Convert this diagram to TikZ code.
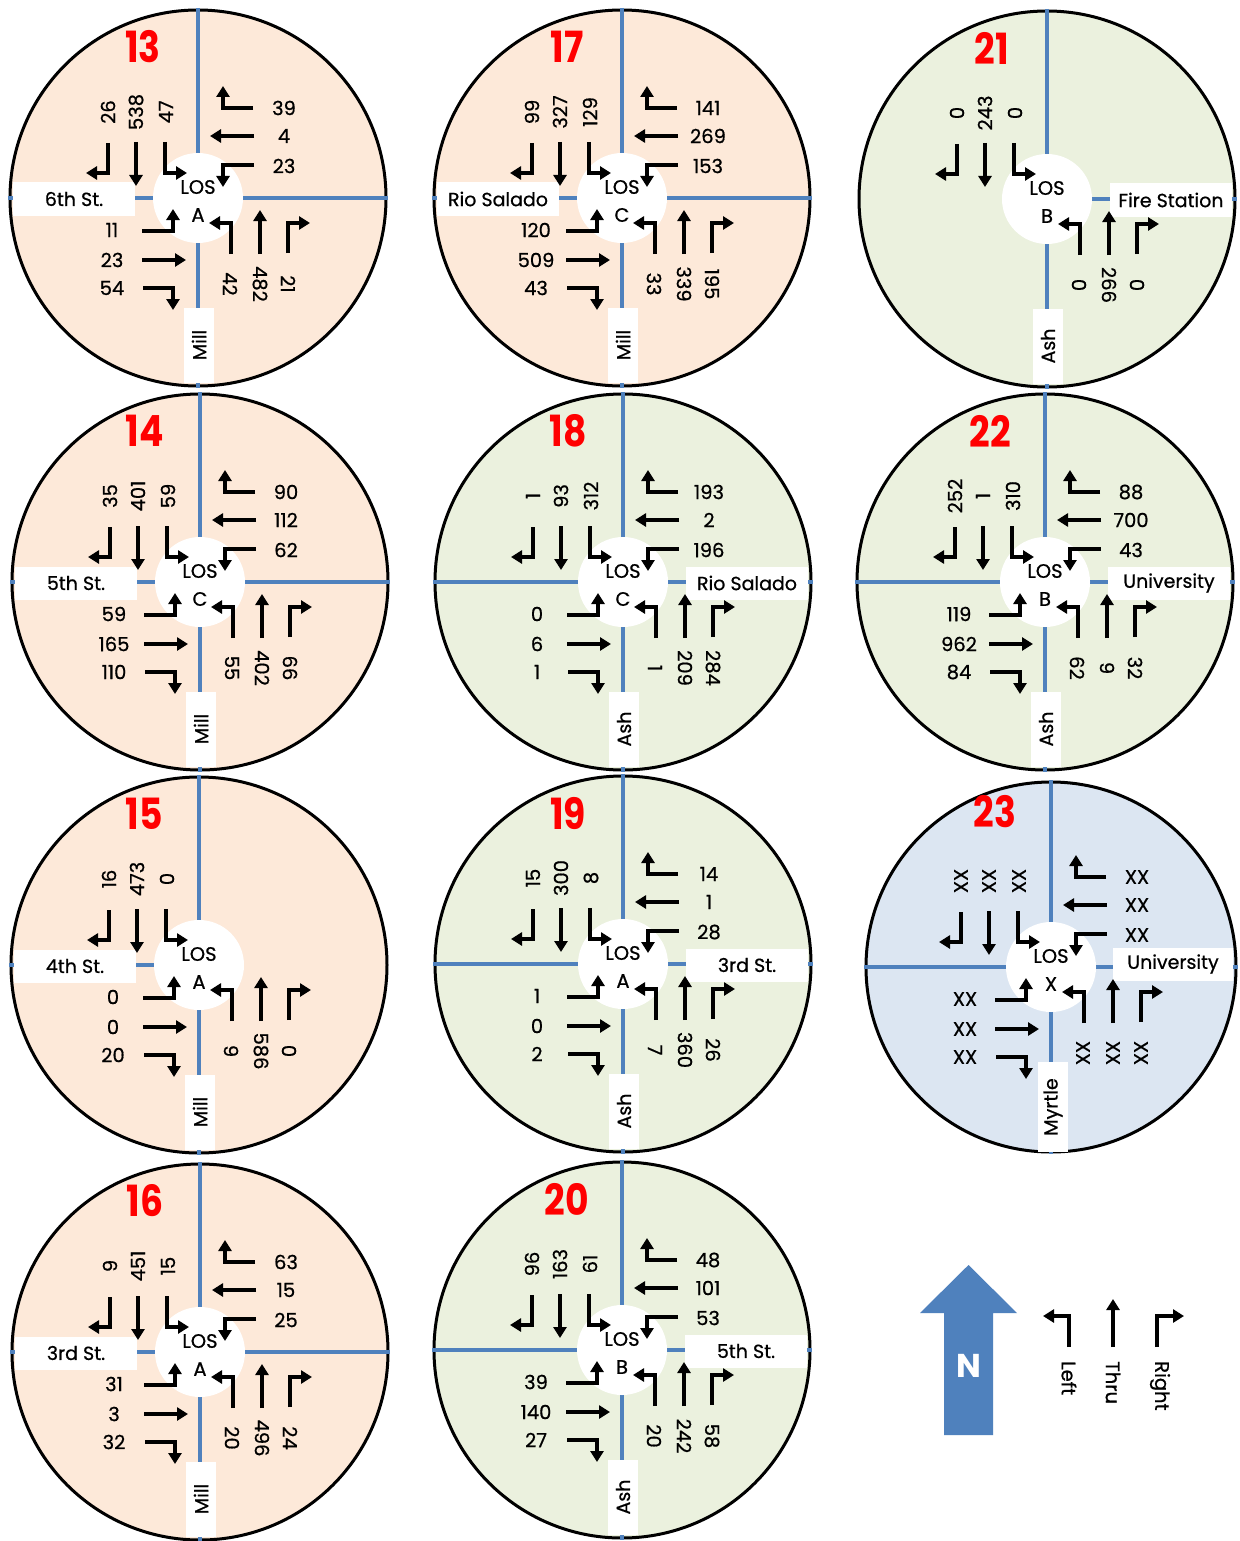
\documentclass[tikz,border=0pt]{standalone}
\usepackage{fontspec}
\setmainfont{Poppins}[FakeBold=0.7]
\newfontfamily\plainpop{Poppins}
\usetikzlibrary{arrows.meta}
\definecolor{peach}{HTML}{FDE9D9}
\definecolor{sage}{HTML}{EBF1DE}
\definecolor{pale}{HTML}{DCE6F2}
\definecolor{road}{HTML}{4F81BD}
\tikzset{
  rim/.style={draw=black, line width=3pt},
  roadline/.style={draw=road, line width=4pt},
  mv/.style={draw=black, line width=3.8pt, line join=miter, -{Triangle[length=11pt,width=13pt]}},
  vol/.style={font=\fontsize{19.5}{19.5}\selectfont, inner sep=0pt},
  streetbox/.style={fill=white, inner sep=0pt, minimum width=122pt, minimum height=33pt, font=\fontsize{19}{19}\selectfont},
  losdot/.style={circle, fill=white, minimum size=90pt, inner sep=0pt},
  idnum/.style={text=red, inner sep=0pt, font=\plainpop\fontsize{43}{43}\selectfont\bfseries, xscale=0.84},
}
\newcommand\mydisc[2]{\draw[rim, fill=#1] (0,0) circle[radius=#2pt];}
\newcommand\hroad{\draw[roadline] (-190,0) -- (190,0);}
\newcommand\vroad{\draw[roadline] (0,-190) -- (0,190);}
\newcommand\losmark[2]{\node[losdot] (#1) at (0,0) {};
  \node[vol] (#1a) at (0,-11) {LOS};
  \node[vol] (#1b) at (0,17) {#2};}
\newcommand\westlabel[2]{\node[streetbox] (#1) at (-124,1) {#2};}
\newcommand\eastlabel[2]{\node[streetbox] (#1) at (124,1) {#2};}
\newcommand\southlabel[2]{\node[streetbox, minimum width=75pt, minimum height=30pt, rotate=90] (#1) at (1,147) {#2};}
\newcommand\idtag[2]{\node[idnum] (#1) at (-55,-151) {#2};}
% prefix, rotation, label rotation, right, thru, left
\newcommand\mvset[6]{%
  \begin{scope}[rotate=#2]
    \draw[mv] (-90,-55) -- (-90,-25) -- (-112,-25);
    \draw[mv] (-62,-56) -- (-62,-12);
    \draw[mv] (-33,-56) -- (-33,-25) -- (-11,-25);
    \node[vol, rotate=#3] (#1r) at (-90,-86) {#4};
    \node[vol, rotate=#3] (#1t) at (-62,-86) {#5};
    \node[vol, rotate=#3] (#1l) at (-32,-86) {#6};
  \end{scope}}
\begin{document}
\begin{tikzpicture}[x=1pt, y=-1pt]
\fill[white] (0,0) rectangle (1239,1541);
\useasboundingbox (0,0) rectangle (1239,1541);

% ---------- 13 ----------
\begin{scope}[shift={(198,198)}]
  \mydisc{peach}{188}
  \hroad \vroad
  \losmark{c13los}{A}
  \westlabel{c13w}{6th St.}
  \southlabel{c13s}{Mill}
  \mvset{c13sb}{0}{90}{26}{538}{47}
  \mvset{c13wb}{-90}{0}{39}{4}{23}
  \mvset{c13eb}{90}{0}{54}{23}{11}
  \mvset{c13nb}{180}{-90}{21}{482}{42}
  \idtag{c13n}{13}
\end{scope}

% ---------- 17 ----------
\begin{scope}[shift={(622,198)}]
  \mydisc{peach}{188}
  \hroad \vroad
  \losmark{c17los}{C}
  \westlabel{c17w}{Rio Salado}
  \southlabel{c17s}{Mill}
  \mvset{c17sb}{0}{90}{99}{327}{129}
  \mvset{c17wb}{-90}{0}{141}{269}{153}
  \mvset{c17eb}{90}{0}{43}{509}{120}
  \mvset{c17nb}{180}{-90}{195}{339}{33}
  \idtag{c17n}{17}
\end{scope}

% ---------- 21 ----------
\begin{scope}[shift={(1047,199)}]
  \mydisc{sage}{188}
  \draw[roadline] (0,0) -- (190,0);
  \vroad
  \losmark{c21los}{B}
  \eastlabel{c21e}{Fire Station}
  \southlabel{c21s}{Ash}
  \mvset{c21sb}{0}{90}{0}{243}{0}
  \mvset{c21nb}{180}{-90}{0}{266}{0}
  \idtag{c21n}{21}
\end{scope}

% ---------- 14 ----------
\begin{scope}[shift={(200,582)}]
  \mydisc{peach}{188}
  \hroad \vroad
  \losmark{c14los}{C}
  \westlabel{c14w}{5th St.}
  \southlabel{c14s}{Mill}
  \mvset{c14sb}{0}{90}{35}{401}{59}
  \mvset{c14wb}{-90}{0}{90}{112}{62}
  \mvset{c14eb}{90}{0}{110}{165}{59}
  \mvset{c14nb}{180}{-90}{66}{402}{55}
  \idtag{c14n}{14}
\end{scope}

% ---------- 18 ----------
\begin{scope}[shift={(623,582)}]
  \mydisc{sage}{188}
  \hroad \vroad
  \losmark{c18los}{C}
  \eastlabel{c18e}{Rio Salado}
  \southlabel{c18s}{Ash}
  \mvset{c18sb}{0}{90}{1}{93}{312}
  \mvset{c18wb}{-90}{0}{193}{2}{196}
  \mvset{c18eb}{90}{0}{1}{6}{0}
  \mvset{c18nb}{180}{-90}{284}{209}{1}
  \idtag{c18n}{18}
\end{scope}

% ---------- 22 ----------
\begin{scope}[shift={(1045,582)}]
  \mydisc{sage}{188}
  \hroad \vroad
  \losmark{c22los}{B}
  \eastlabel{c22e}{University}
  \southlabel{c22s}{Ash}
  \mvset{c22sb}{0}{90}{252}{1}{310}
  \mvset{c22wb}{-90}{0}{88}{700}{43}
  \mvset{c22eb}{90}{0}{84}{962}{119}
  \mvset{c22nb}{180}{-90}{32}{9}{62}
  \idtag{c22n}{22}
\end{scope}

% ---------- 15 ----------
\begin{scope}[shift={(199,965)}]
  \mydisc{peach}{188}
  \draw[roadline] (-190,0) -- (0,0);
  \vroad
  \losmark{c15los}{A}
  \westlabel{c15w}{4th St.}
  \southlabel{c15s}{Mill}
  \mvset{c15sb}{0}{90}{16}{473}{0}
  \mvset{c15eb}{90}{0}{20}{0}{0}
  \mvset{c15nb}{180}{-90}{0}{586}{9}
  \idtag{c15n}{15}
\end{scope}

% ---------- 19 ----------
\begin{scope}[shift={(623,964)}]
  \mydisc{sage}{188}
  \hroad \vroad
  \losmark{c19los}{A}
  \eastlabel{c19e}{3rd St.}
  \southlabel{c19s}{Ash}
  \mvset{c19sb}{0}{90}{15}{300}{8}
  \mvset{c19wb}{-90}{0}{14}{1}{28}
  \mvset{c19eb}{90}{0}{2}{0}{1}
  \mvset{c19nb}{180}{-90}{26}{360}{7}
  \idtag{c19n}{19}
\end{scope}

% ---------- 23 ----------
\begin{scope}[shift={(1051,967)}]
  \mydisc{pale}{185}
  \draw[roadline] (-187,0) -- (187,0);
  \draw[roadline] (0,-187) -- (0,187);
  \losmark{c23los}{X}
  \node[streetbox, minimum width=120pt] (c23e) at (122,-3) {University};
  \node[streetbox, minimum width=90pt, minimum height=30pt, rotate=90] (c23s) at (2,140) {Myrtle};
  \mvset{c23sb}{0}{90}{XX}{XX}{XX}
  \mvset{c23wb}{-90}{0}{XX}{XX}{XX}
  \mvset{c23eb}{90}{0}{XX}{XX}{XX}
  \mvset{c23nb}{180}{-90}{XX}{XX}{XX}
  \node[idnum] (c23n) at (-56,-155) {23};
\end{scope}

% ---------- 16 ----------
\begin{scope}[shift={(200,1352)}]
  \mydisc{peach}{188}
  \hroad \vroad
  \losmark{c16los}{A}
  \westlabel{c16w}{3rd St.}
  \southlabel{c16s}{Mill}
  \mvset{c16sb}{0}{90}{9}{451}{15}
  \mvset{c16wb}{-90}{0}{63}{15}{25}
  \mvset{c16eb}{90}{0}{32}{3}{31}
  \mvset{c16nb}{180}{-90}{24}{496}{20}
  \idtag{c16n}{16}
\end{scope}

% ---------- 20 ----------
\begin{scope}[shift={(622,1350)}]
  \mydisc{sage}{188}
  \hroad \vroad
  \losmark{c20los}{B}
  \eastlabel{c20e}{5th St.}
  \southlabel{c20s}{Ash}
  \mvset{c20sb}{0}{90}{96}{163}{61}
  \mvset{c20wb}{-90}{0}{48}{101}{53}
  \mvset{c20eb}{90}{0}{27}{140}{39}
  \mvset{c20nb}{180}{-90}{58}{242}{20}
  \idtag{c20n}{20}
\end{scope}

% ---------- legend ----------
\fill[road] (944,1435) -- (944,1313) -- (920,1313) -- (968.5,1265) -- (1017,1313) -- (993,1313) -- (993,1435) -- cycle;
\node[text=white, inner sep=0pt, font=\plainpop\fontsize{33}{33}\selectfont\bfseries] (north) at (968.5,1366) {N};
\draw[mv] (1069,1347) -- (1069,1316) -- (1043,1316);
\draw[mv] (1113,1347) -- (1113,1299);
\draw[mv] (1157,1347) -- (1157,1316) -- (1184,1316);
\node[vol, rotate=-90, anchor=west] (legleft) at (1069,1361) {Left};
\node[vol, rotate=-90, anchor=west] (legthru) at (1113,1361) {Thru};
\node[vol, rotate=-90, anchor=west] (legright) at (1160,1361) {Right};
\end{tikzpicture}
\end{document}
